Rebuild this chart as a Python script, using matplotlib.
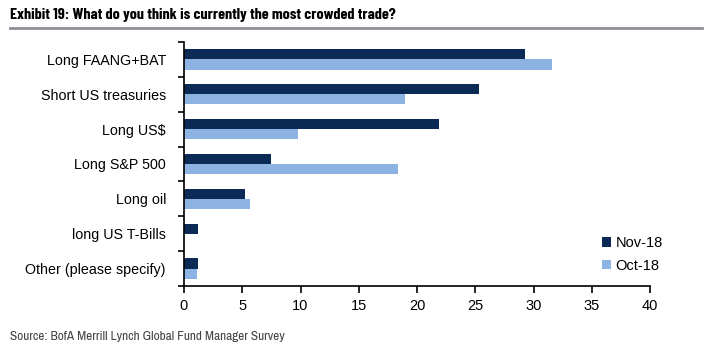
import matplotlib.pyplot as plt
import numpy as np

# Survey data (% of respondents)
categories = [
    "Long FAANG+BAT",
    "Short US treasuries",
    "Long US$",
    "Long S&P 500",
    "Long oil",
    "long US T-Bills",
    "Other (please specify)",
]
nov_18 = [29.3, 25.3, 21.9, 7.5, 5.2, 1.2, 1.2]
oct_18 = [31.6, 19.0, 9.8, 18.4, 5.7, 0.0, 1.1]
x_ticks = [0, 5, 10, 15, 20, 25, 30, 35, 40]

plt.rcParams["font.family"] = ["Liberation Sans", "DejaVu Sans"]
narrow = ["Archivo Narrow", "Liberation Sans", "DejaVu Sans"]
narrow_bold = ["Barlow Condensed", "Roboto Condensed", "Liberation Sans", "DejaVu Sans"]

fig = plt.figure(figsize=(7.15, 3.51), dpi=100)
ax = fig.add_axes([184 / 715, 1 - 286 / 351, 466 / 715, 244 / 351])

y = np.arange(len(categories))
h = 0.29
ax.barh(y - h / 2, nov_18, height=h, color="#0c2a56", label="Nov-18")
ax.barh(y + h / 2, oct_18, height=h, color="#8db3e2", label="Oct-18")

ax.set_xlim(0, 40)
ax.set_ylim(len(categories) - 0.5, -0.5)
ax.set_xticks(x_ticks)
ax.set_xticklabels([str(t) for t in x_ticks], fontsize=10.5)

# category labels centred, ticks on category boundaries
ax.set_yticks(y)
ax.set_yticklabels(categories, fontsize=10.3)
ax.tick_params(axis="y", length=0, pad=13)
ax.set_yticks(np.arange(len(categories) + 1) - 0.5, minor=True)
ax.tick_params(axis="y", which="minor", length=4, width=1.2, direction="out")
ax.tick_params(axis="x", length=5, width=1.2, direction="out", pad=4)

for s in ["top", "right"]:
    ax.spines[s].set_visible(False)
for s in ["left", "bottom"]:
    ax.spines[s].set_linewidth(1.2)

ax.legend(loc="lower right", bbox_to_anchor=(1.055, 0.0), frameon=False,
          fontsize=10.5, handlelength=0.6, handleheight=0.6,
          handletextpad=0.3, labelspacing=0.6)

fig.text(10 / 715, 1 - 15 / 351, "Exhibit 19: What do you think is currently the most crowded trade?",
         fontsize=11.5, fontweight="bold", va="center", ha="left", family=narrow_bold)
fig.add_artist(plt.Line2D([10 / 715, 702 / 715], [1 - 28 / 351, 1 - 28 / 351],
                          color="#8c9096", linewidth=2, transform=fig.transFigure))
fig.text(10 / 715, 1 - 336 / 351, "Source: BofA Merrill Lynch Global Fund Manager Survey",
         fontsize=9.6, color="#444444", va="center", ha="left", family=narrow)

fig.savefig("out.png", dpi=100)
